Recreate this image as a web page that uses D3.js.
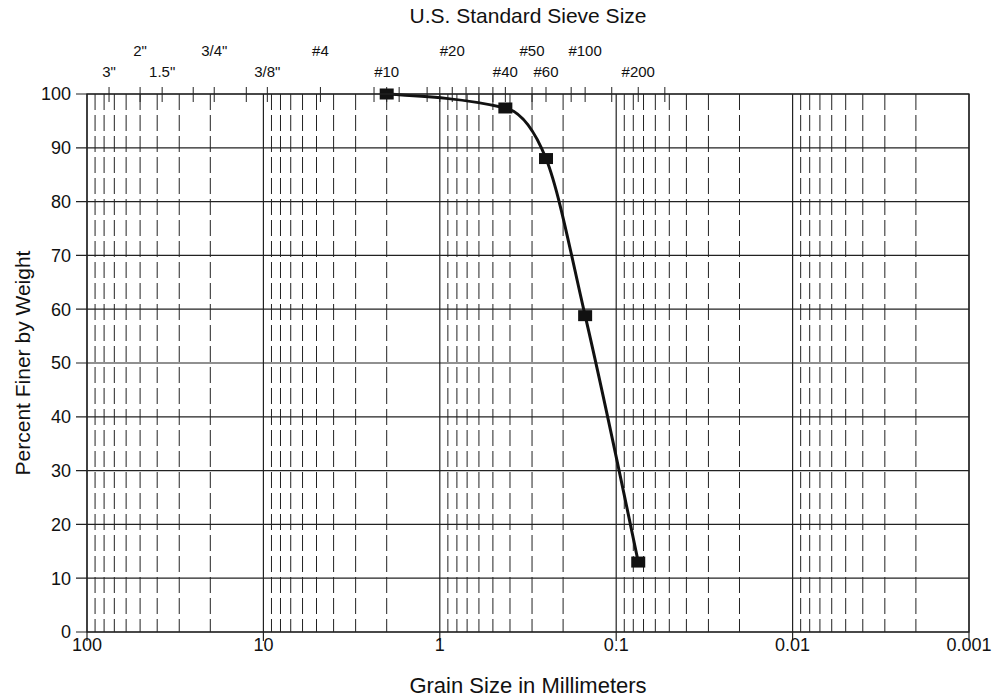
<!DOCTYPE html>
<html>
<head>
<meta charset="utf-8">
<script src="https://cdn.jsdelivr.net/npm/d3@7"></script>
<style>
  body { margin: 0; background: #fff; }
  text { font-family: "Liberation Sans", Arial, sans-serif; fill: #111; }
</style>
</head>
<body>
<div class="center"></div>
<script>
// chart data
const grainSizes = [2.0, 0.425, 0.25, 0.15, 0.075];        // mm
const percentFiner = [100, 97.4, 88.0, 58.8, 13.0];        // %

// decade ticks on the bottom axis
const decadeTicks = [100, 10, 1, 0.1, 0.01, 0.001];
const decadeLabels = ["100", "10", "1", "0.1", "0.01", "0.001"];

// percent ticks
const percentTicks = [0, 10, 20, 30, 40, 50, 60, 70, 80, 90, 100];

// U.S. standard sieve openings (mm) marked on the top border
const sieveTickSizes = [75, 50, 37.5, 25, 19, 12.5, 9.5, 4.75, 2.36, 2.0, 1.7, 1.18, 1.0,
                        0.85, 0.71, 0.6, 0.5, 0.425, 0.3, 0.25, 0.18, 0.15, 0.106, 0.075, 0.053];
const sieveLabelNames = ['3"', '2"', '1.5"', '3/4"', '3/8"', '#4', '#10', '#20', '#40', '#50', '#60', '#100', '#200'];
const sieveLabelSizes = [75, 50, 37.5, 19, 9.5, 4.75, 2.0, 0.85, 0.425, 0.3, 0.25, 0.15, 0.075];

const W = 995, H = 700;
const margin = {top: 94, right: 26, bottom: 68, left: 87};
const width = W - margin.left - margin.right;
const height = H - margin.top - margin.bottom;

const xScale = d3.scaleLog().domain([100, 0.001]).range([0, width]);
const yScale = d3.scaleLinear().domain([0, 100]).range([height, 0]);

const svg = d3.select(".center").append("svg")
    .attr("width", W)
    .attr("height", H);

const g = svg.append("g")
    .attr("transform", `translate(${margin.left},${margin.top})`);

// minor (dashed) vertical grid: 2..9 in every decade
const minorVals = [];
for (let e = 2; e >= -3; e--) {
  for (let m = 2; m <= 9; m++) {
    const v = m * Math.pow(10, e - 1);
    if (v < 100 && v > 0.001) minorVals.push(v);
  }
}
g.selectAll(".minor")
  .data(minorVals)
  .enter().append("line")
    .attr("x1", d => xScale(d))
    .attr("x2", d => xScale(d))
    .attr("y1", 0)
    .attr("y2", height)
    .style("stroke", "#222")
    .style("stroke-width", 1)
    .style("stroke-dasharray", "16,5");

// decade lines
g.selectAll(".major")
  .data(decadeTicks)
  .enter().append("line")
    .attr("x1", d => xScale(d))
    .attr("x2", d => xScale(d))
    .attr("y1", 0)
    .attr("y2", height + 9)
    .style("stroke", "#222")
    .style("stroke-width", 1.2);

// horizontal grid
g.selectAll(".hgrid")
  .data(percentTicks)
  .enter().append("line")
    .attr("x1", -11)
    .attr("x2", width)
    .attr("y1", d => yScale(d))
    .attr("y2", d => yScale(d))
    .style("stroke", "#222")
    .style("stroke-width", 1.2);

// y tick labels
g.selectAll(".ylab")
  .data(percentTicks)
  .enter().append("text")
    .attr("x", -16)
    .attr("y", d => yScale(d))
    .attr("dy", "0.35em")
    .attr("text-anchor", "end")
    .style("font-size", "18px")
    .text(d => d);

// x tick labels
g.selectAll(".xlab")
  .data(decadeTicks)
  .enter().append("text")
    .attr("x", d => xScale(d))
    .attr("y", height + 19)
    .attr("text-anchor", "middle")
    .style("font-size", "18px")
    .text((d, i) => decadeLabels[i]);

// sieve ticks across the top border
g.selectAll(".sieve")
  .data(sieveTickSizes)
  .enter().append("line")
    .attr("x1", d => xScale(d))
    .attr("x2", d => xScale(d))
    .attr("y1", -7)
    .attr("y2", 8)
    .style("stroke", "#222")
    .style("stroke-width", 1);

// sieve labels, alternating between two rows
g.selectAll(".sievelab")
  .data(sieveLabelSizes)
  .enter().append("text")
    .attr("x", d => xScale(d))
    .attr("y", (d, i) => i % 2 === 0 ? -17 : -38)
    .attr("text-anchor", "middle")
    .style("font-size", "15px")
    .text((d, i) => sieveLabelNames[i]);

// the gradation curve
const pts = grainSizes.map((d, i) => [xScale(d), yScale(percentFiner[i])]);
g.append("path")
    .datum(pts)
    .attr("d", d3.line().curve(d3.curveMonotoneX))
    .style("fill", "none")
    .style("stroke", "#111")
    .style("stroke-width", 3);

g.selectAll(".pt")
  .data(pts)
  .enter().append("rect")
    .attr("x", d => d[0] - 7)
    .attr("y", d => d[1] - 5.5)
    .attr("width", 14)
    .attr("height", 11)
    .style("fill", "#111");

// plot frame
g.append("rect")
    .attr("width", width)
    .attr("height", height)
    .style("fill", "none")
    .style("stroke", "#222")
    .style("stroke-width", 1.3);

// titles
svg.append("text")
    .attr("x", margin.left + width / 2)
    .attr("y", 23)
    .attr("text-anchor", "middle")
    .style("font-size", "21px")
    .text("U.S. Standard Sieve Size");

svg.append("text")
    .attr("x", margin.left + width / 2)
    .attr("y", 693)
    .attr("text-anchor", "middle")
    .style("font-size", "22px")
    .text("Grain Size in Millimeters");

svg.append("text")
    .attr("transform", `translate(30,${margin.top + height / 2}) rotate(-90)`)
    .attr("text-anchor", "middle")
    .style("font-size", "21px")
    .text("Percent Finer by Weight");
</script>
</body>
</html>
